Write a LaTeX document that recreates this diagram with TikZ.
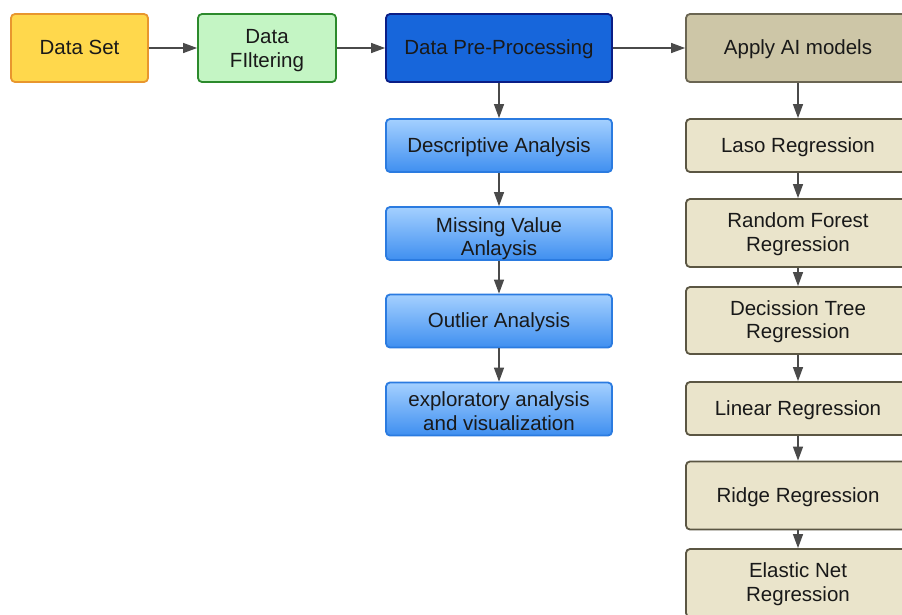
\documentclass[tikz,border=0pt]{standalone}
\usepackage{fontspec}
\setmainfont{Liberation Sans}
\usetikzlibrary{arrows.meta}
\definecolor{dsfill}{HTML}{FFD84C}
\definecolor{dsline}{HTML}{E8962E}
\definecolor{dffill}{HTML}{C4F5C4}
\definecolor{dfline}{HTML}{2C8A2C}
\definecolor{dpfill}{HTML}{1766DB}
\definecolor{dpline}{HTML}{0B1E86}
\definecolor{aifill}{HTML}{CDC6A7}
\definecolor{ailine}{HTML}{6A6552}
\definecolor{lbtop}{HTML}{A4D0FF}
\definecolor{lbbot}{HTML}{3F8FF0}
\definecolor{lbline}{HTML}{2B7BE0}
\definecolor{bgfill}{HTML}{EAE4CB}
\definecolor{bgline}{HTML}{5B5643}
\definecolor{arrc}{HTML}{4A4A4A}
\newcommand\boxtxt[2]{\raisebox{-#1pt}[\height][\depth]{\begin{tabular}{@{}c@{}}#2\end{tabular}}}
\tikzset{
  box/.style={rectangle, rounded corners=4pt, line width=1.8pt, align=center,
    text=black!90, font=\fontsize{20.5}{23.5}\selectfont, inner sep=2pt},
  yellowbox/.style={box, fill=dsfill, draw=dsline},
  greenbox/.style={box, fill=dffill, draw=dfline},
  bluebox/.style={box, fill=dpfill, draw=dpline},
  aibox/.style={box, fill=aifill, draw=ailine},
  lbbox/.style={box, top color=lbtop, bottom color=lbbot, draw=lbline},
  beigebox/.style={box, fill=bgfill, draw=bgline},
  arr/.style={draw=arrc, line width=1.3pt, -{Triangle[length=14pt,width=10pt]}}
}
\begin{document}
\begin{tikzpicture}[x=1pt,y=-1pt]
\useasboundingbox (0,0) rectangle (902,614);
\fill[white] (0,0) rectangle (902,614);
\clip (0,0) rectangle (902,614);
\node[yellowbox, minimum width=137pt, minimum height=68pt] (ds) at (79.5,48) {\boxtxt{2}{Data Set}};
\node[greenbox, minimum width=138pt, minimum height=68pt] (df) at (267,48) {\boxtxt{3}{Data\\FIltering}};
\node[bluebox, minimum width=226pt, minimum height=68pt] (dp) at (499,48) {\boxtxt{2}{Data Pre-Processing}};
\node[aibox, minimum width=224pt, minimum height=68pt] (ai) at (798,48) {\boxtxt{2}{Apply AI models}};
\node[lbbox, minimum width=226pt, minimum height=53pt] (da) at (499,145.5) {\boxtxt{2}{Descriptive Analysis}};
\node[lbbox, minimum width=226pt, minimum height=53pt] (mv) at (499,233.5) {\boxtxt{6}{Missing Value\\Anlaysis}};
\node[lbbox, minimum width=226pt, minimum height=53pt] (oa) at (499,321) {\boxtxt{2}{Outlier Analysis}};
\node[lbbox, minimum width=226pt, minimum height=53pt] (ea) at (499,409) {\boxtxt{5}{exploratory analysis\\and visualization}};
\node[beigebox, minimum width=224pt, minimum height=53pt] (lr) at (798,145.5) {\boxtxt{2}{Laso Regression}};
\node[beigebox, minimum width=224pt, minimum height=68pt] (rf) at (798,233) {\boxtxt{2}{Random Forest\\Regression}};
\node[beigebox, minimum width=224pt, minimum height=67pt] (dt) at (798,320.5) {\boxtxt{2}{Decission Tree\\Regression}};
\node[beigebox, minimum width=224pt, minimum height=53pt] (lin) at (798,408.5) {\boxtxt{2}{Linear Regression}};
\node[beigebox, minimum width=224pt, minimum height=68pt] (rr) at (798,495.5) {\boxtxt{2}{Ridge Regression}};
\node[beigebox, minimum width=224pt, minimum height=68pt] (en) at (798,583) {\boxtxt{2}{Elastic Net\\Regression}};
\draw[arr] (ds) -- (df);
\draw[arr] (df) -- (dp);
\draw[arr] (dp) -- (ai);
\draw[arr] (dp) -- (da);
\draw[arr] (da) -- (mv);
\draw[arr] (mv) -- (oa);
\draw[arr] (oa) -- (ea);
\draw[arr] (ai) -- (lr);
\draw[arr] (lr) -- (rf);
\draw[arr] (rf) -- (dt);
\draw[arr] (dt) -- (lin);
\draw[arr] (lin) -- (rr);
\draw[arr] (rr) -- (en);
\end{tikzpicture}
\end{document}
